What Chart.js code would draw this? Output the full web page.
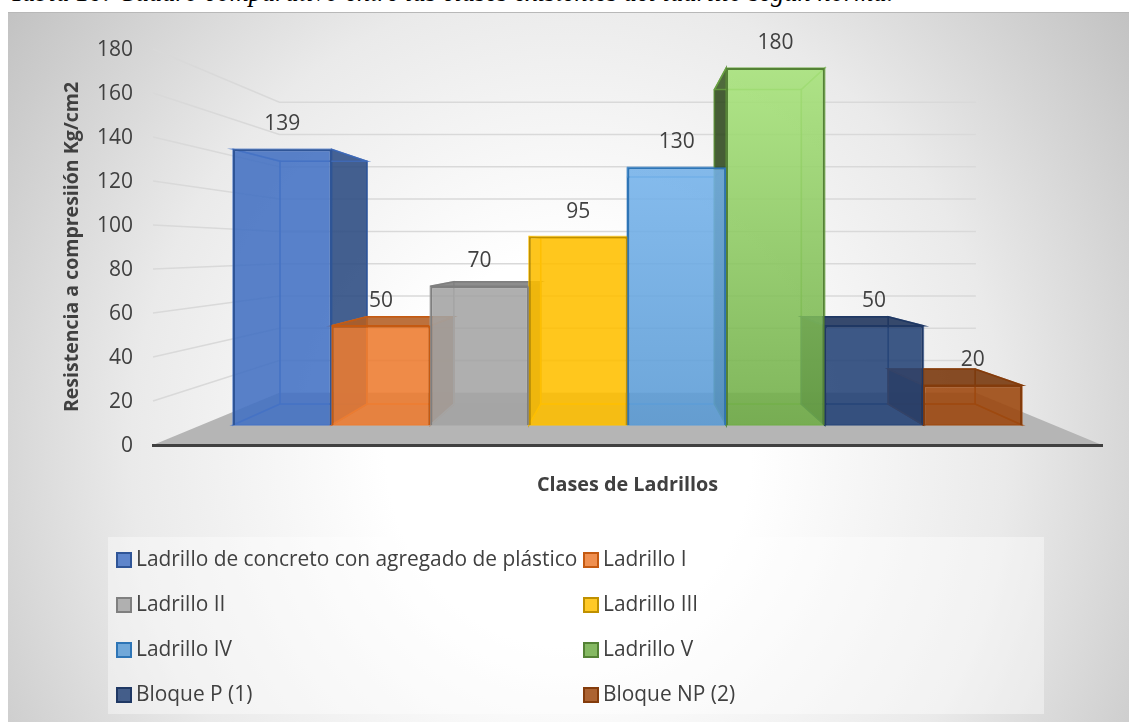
<!DOCTYPE html>
<html lang="es">
<head>
<meta charset="utf-8">
<title>Resistencia a compresión</title>
<script src="https://cdn.jsdelivr.net/npm/chart.js@4"></script>
<style>
  html, body { margin: 0; padding: 0; background: #fff; overflow: hidden; }
  #page { position: relative; width: 1129px; height: 722px; overflow: hidden; }
  #caption { position: absolute; left: 10px; top: -23px; font: italic 26.5px "Liberation Serif", serif; color: #000; white-space: nowrap; }
  #frame { position: absolute; left: 8px; top: 12px; width: 1121px; height: 710px;
    border-top: 1px solid #b8b8b8; box-sizing: border-box;
    background: radial-gradient(ellipse 65% 110% at 50% 62%, #fff 25%, #eaeaea 60%, #bdbdbd 100%); }
  canvas { position: absolute; left: 0; top: 0; }
</style>
</head>
<body>
<div id="page">
  <div id="caption">Tabla 10: Cuadro comparativo entre las clases existentes del ladrillo según norma.</div>
  <div id="frame"></div>
  <canvas id="chart" width="1129" height="722"></canvas>
</div>
<script>
const categories = ['Clases de Ladrillos'];
const seriesNames = [
  'Ladrillo de concreto con agregado de plástico', 'Ladrillo I', 'Ladrillo II', 'Ladrillo III',
  'Ladrillo IV', 'Ladrillo V', 'Bloque P (1)', 'Bloque NP (2)'
];
const seriesValues = [139, 50, 70, 95, 130, 180, 50, 20];
const yTicks = [0, 20, 40, 60, 80, 100, 120, 140, 160, 180];

const baseRgb = [
  [68, 114, 196], [237, 125, 49], [165, 165, 165], [255, 192, 0],
  [91, 155, 213], [112, 173, 71], [38, 68, 120], [158, 72, 14]
];
const edgeColors = ['#2f5597', '#c55a11', '#7f7f7f', '#bf9000', '#2e75b6', '#548235', '#1f3864', '#843c0c'];
// the two tall bars fade to a lighter colour at the top
const topRgb = { 4: [130, 190, 245], 5: [170, 230, 125] };

const textColor = '#404040';
const fontFamily = '"Open Sans", sans-serif';

// depth of the fake 3d box: everything shrinks towards this point
const vanish = { x: 628, y: 249 };
const barDepth = 0.881;
const wallDepth = 0.734; // from the axis plane to the back wall

function rgba(rgb, k, a) {
  return `rgba(${rgb[0] * k}, ${rgb[1] * k}, ${rgb[2] * k}, ${a})`;
}

function shrink(px, py, k) {
  return [vanish.x + k * (px - vanish.x), vanish.y + k * (py - vanish.y)];
}

function poly(ctx, pts, fill, stroke) {
  ctx.beginPath();
  pts.forEach((p, i) => (i ? ctx.lineTo(p[0], p[1]) : ctx.moveTo(p[0], p[1])));
  ctx.closePath();
  if (fill) { ctx.fillStyle = fill; ctx.fill(); }
  if (stroke) { ctx.strokeStyle = stroke; ctx.lineWidth = 1.5; ctx.stroke(); }
}

// floor and gridlines, from the visible y scale
const wallPlugin = {
  id: 'wall',
  beforeDraw(chart) {
    const { ctx, chartArea: area, scales } = chart;
    const y0 = scales.y.getPixelForValue(0);
    ctx.save();
    poly(ctx, [[area.left, y0], shrink(area.left, y0, wallDepth), shrink(area.right, y0, wallDepth), [area.right, y0]], '#b5b5b5');
    ctx.strokeStyle = '#d9d9d9';
    ctx.lineWidth = 1.5;
    scales.y.ticks.forEach(t => {
      if (t.value === 0) return;
      const py = scales.y.getPixelForValue(t.value);
      const a = shrink(area.left, py, wallDepth);
      const b = shrink(area.right, py, wallDepth);
      ctx.beginPath();
      ctx.moveTo(area.left, py);
      ctx.lineTo(a[0], a[1]);
      ctx.lineTo(b[0], b[1]);
      ctx.stroke();
    });
    ctx.restore();
  }
};

// back, sides, floor and lid of each bar, taken from its bar element.
// Faces that stay behind the bar's own front are kept pale, the ones that stick out are dark
const boxPlugin = {
  id: 'boxes',
  beforeDatasetsDraw(chart) {
    const { ctx } = chart;
    const pale = 0.25;
    ctx.save();
    chart.data.datasets.forEach((ds, i) => {
      const bar = chart.getDatasetMeta(i).data[0];
      const l = bar.x - bar.width / 2, r = bar.x + bar.width / 2;
      const t = bar.y, b = bar.base;
      const rgb = baseRgb[i];
      const edge = edgeColors[i];
      const faint = rgba(rgb, 1, 0.7);
      const lt = shrink(l, t, barDepth), rt = shrink(r, t, barDepth);
      const lb = shrink(l, b, barDepth), rb = shrink(r, b, barDepth);
      const leftOut = bar.x > vanish.x;
      const lidOut = t > vanish.y;
      poly(ctx, [lt, rt, rb, lb], rgba(rgb, 1, pale), faint);
      poly(ctx, [[l, b], [r, b], rb, lb], rgba(rgb, 0.85, pale), faint);
      poly(ctx, [[l, t], lt, lb, [l, b]], leftOut ? rgba(rgb, 0.4, 0.85) : rgba(rgb, 0.8, pale), leftOut ? edge : faint);
      poly(ctx, [[r, t], rt, rb, [r, b]], leftOut ? rgba(rgb, 0.8, pale) : rgba(rgb, 0.65, 0.85), leftOut ? faint : edge);
      poly(ctx, [[l, t], [r, t], rt, lt], lidOut ? rgba(rgb, 0.75, 0.85) : rgba(rgb, 0.8, pale), lidOut ? edge : faint);
    });
    ctx.restore();
  }
};

const valueLabelPlugin = {
  id: 'valueLabels',
  afterDatasetsDraw(chart) {
    const { ctx } = chart;
    ctx.save();
    ctx.font = '21px ' + fontFamily;
    ctx.fillStyle = textColor;
    ctx.textAlign = 'center';
    ctx.textBaseline = 'middle';
    chart.data.datasets.forEach((ds, i) => {
      const bar = chart.getDatasetMeta(i).data[0];
      ctx.fillText(ds.data[0], bar.x, bar.y - 25);
    });
    ctx.restore();
  }
};

// two column legend on a pale box like the office one
const legendPlugin = {
  id: 'boxLegend',
  afterDraw(chart) {
    const { ctx } = chart;
    ctx.save();
    ctx.fillStyle = 'rgba(255, 255, 255, 0.4)';
    ctx.fillRect(108, 537, 936, 177);
    ctx.font = '20.9px ' + fontFamily;
    ctx.textBaseline = 'middle';
    chart.data.datasets.forEach((ds, i) => {
      const x = i % 2 ? 584 : 117;
      const y = 560 + 45 * Math.floor(i / 2);
      ctx.fillStyle = rgba(baseRgb[i], 1, 0.85);
      ctx.strokeStyle = edgeColors[i];
      ctx.lineWidth = 2;
      ctx.fillRect(x, y - 7, 14, 14);
      ctx.strokeRect(x, y - 7, 14, 14);
      ctx.fillStyle = textColor;
      ctx.fillText(ds.label, x + 19, y);
    });
    ctx.restore();
  }
};

function frontFill(ctx, i) {
  const chart = ctx.chart;
  if (!topRgb[i] || !chart.chartArea) return rgba(baseRgb[i], 1, 0.85);
  const sc = chart.scales.yFront;
  const g = chart.ctx.createLinearGradient(0, sc.getPixelForValue(180), 0, sc.getPixelForValue(0));
  g.addColorStop(0, rgba(topRgb[i], 1, 0.85));
  g.addColorStop(1, rgba(baseRgb[i], 1, 0.85));
  return g;
}

new Chart(document.getElementById('chart'), {
  type: 'bar',
  data: {
    labels: categories,
    datasets: seriesNames.map((name, i) => ({
      label: name,
      data: [seriesValues[i]],
      yAxisID: 'yFront',
      backgroundColor: ctx => frontFill(ctx, i),
      borderColor: edgeColors[i],
      borderWidth: 2
    }))
  },
  plugins: [wallPlugin, boxPlugin, valueLabelPlugin, legendPlugin],
  options: {
    responsive: false,
    animation: false,
    layout: { padding: { top: 49, right: 27 } },
    categoryPercentage: 0.8314,
    barPercentage: 1,
    plugins: { legend: { display: false }, tooltip: { enabled: false } },
    scales: {
      x: {
        grid: { display: false },
        ticks: { display: false },
        border: { color: '#404040', width: 3 },
        title: {
          display: true,
          text: categories[0],
          color: textColor,
          font: { family: fontFamily, size: 19.8, weight: 'bold' },
          padding: { top: 0, bottom: 225 }
        },
        afterFit(scale) { scale.height = 277; }
      },
      y: {
        min: 0,
        max: 180,
        afterBuildTicks(scale) { scale.ticks = yTicks.map(v => ({ value: v })); },
        grid: { display: false, drawTicks: false },
        border: { display: false },
        ticks: { padding: 20, labelOffset: 1.5, color: textColor, font: { family: fontFamily, size: 21 } },
        title: {
          display: true,
          text: 'Resistencia a compresiión Kg/cm2',
          color: textColor,
          font: { family: fontFamily, size: 19.5, weight: 'bold' },
          padding: { top: 61, bottom: 0 }
        },
        afterFit(scale) { scale.width = 153; }
      },
      // bars sit on a plane nearer the viewer, same range as y but shifted
      yFront: { display: false, min: -10.09, max: 189.6 }
    }
  }
});
</script>
</body>
</html>
